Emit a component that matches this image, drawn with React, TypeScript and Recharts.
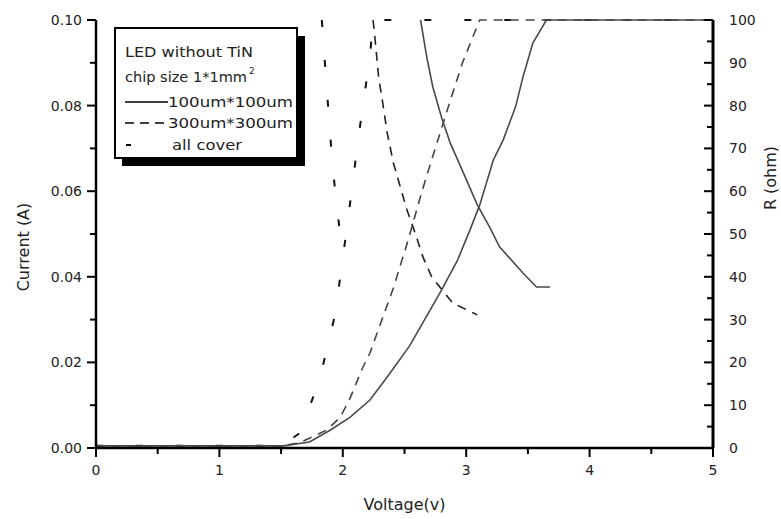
import React from 'react';
import { ComposedChart, Line, XAxis, YAxis } from 'recharts';

// 100um*100um window
const solidIvV = [0, 1.52, 1.73, 1.9, 2.06, 2.22, 2.36, 2.54, 2.8, 2.93, 3.03, 3.11, 3.22, 3.3, 3.4, 3.46, 3.54, 3.65, 5.0];
const solidIvI = [0.0005, 0.0005, 0.0014, 0.0042, 0.0072, 0.0112, 0.0166, 0.0238, 0.0369, 0.0439, 0.0509, 0.0568, 0.0673, 0.072, 0.0797, 0.0867, 0.0946, 0.1, 0.1];
const solidRV = [2.63, 2.68, 2.73, 2.8, 2.87, 2.95, 3.09, 3.19, 3.27, 3.46, 3.57, 3.68];
const solidRR = [100, 91.4, 84.3, 77.3, 71.3, 66.1, 56.8, 51.6, 47.0, 40.9, 37.6, 37.6];

// 300um*300um window
const dashIvV = [0, 1.5, 1.65, 1.87, 1.98, 2.06, 2.16, 2.22, 2.41, 2.53, 2.64, 2.72, 2.88, 2.97, 3.07, 3.11, 5.0];
const dashIvI = [0.0005, 0.0005, 0.0012, 0.0042, 0.0072, 0.0117, 0.0187, 0.0222, 0.0374, 0.0486, 0.0598, 0.0673, 0.082, 0.09, 0.0972, 0.1, 0.1];
const dashRV = [2.245, 2.26, 2.29, 2.32, 2.36, 2.41, 2.48, 2.52, 2.57, 2.65, 2.72, 2.89, 3.09];
const dashRR = [100, 96, 86.7, 81.3, 73.6, 66.6, 59.6, 55.6, 51.6, 44.6, 40, 33.9, 31.1];

// all cover
const coverIvV = [0, 1.5, 1.653, 1.775, 1.831, 1.864, 1.945, 1.985, 2.034, 2.074, 2.131, 2.172, 2.22, 2.245, 5.0];
const coverIvI = [0.0005, 0.0005, 0.0035, 0.0131, 0.0182, 0.0224, 0.032, 0.0416, 0.0514, 0.0607, 0.0734, 0.0818, 0.0914, 0.1, 0.1];
const coverRV = [1.83, 1.864, 1.888, 1.912, 1.945, 1.985];
const coverRR = [100, 86.4, 77.1, 67.8, 57.9, 48.6];

const voltTicks = [0, 0.5, 1, 1.5, 2, 2.5, 3, 3.5, 4, 4.5, 5];
const currentTicks = [0, 0.01, 0.02, 0.03, 0.04, 0.05, 0.06, 0.07, 0.08, 0.09, 0.1];
const ohmTicks = [0, 5, 10, 15, 20, 25, 30, 35, 40, 45, 50, 55, 60, 65, 70, 75, 80, 85, 90, 95, 100];

const FONT = "'DejaVu Sans', 'Liberation Sans', sans-serif";
const INK = '#222';

const zip = (xs: number[], ys: number[], key: string) => xs.map((v, i) => ({ v, [key]: ys[i] }));

function BottomTick({ x, y, payload }: any) {
  const major = Number.isInteger(payload.value);
  return (
    <g>
      <line x1={x} x2={x} y1={y} y2={y + (major ? 9 : 6)} stroke="#000" strokeWidth={2} />
      {major && (
        <text x={x} y={y + 27} textAnchor="middle" fontSize={14} fill={INK} fontFamily={FONT}>
          {payload.value}
        </text>
      )}
    </g>
  );
}

function LeftTick({ x, y, payload }: any) {
  const major = Math.round(payload.value * 100) % 2 === 0;
  return (
    <g>
      <line x1={x - (major ? 9 : 6)} x2={x} y1={y} y2={y} stroke="#000" strokeWidth={2} />
      {major && (
        <text x={x - 14} y={y + 5} textAnchor="end" fontSize={14} fill={INK} fontFamily={FONT}>
          {payload.value.toFixed(2)}
        </text>
      )}
    </g>
  );
}

function RightTick({ x, y, payload }: any) {
  const major = payload.value % 10 === 0;
  return (
    <g>
      <line x1={x - (major ? 9 : 6)} x2={x} y1={y} y2={y} stroke="#000" strokeWidth={2} />
      {major && (
        <text x={x + 16} y={y + 5} textAnchor="start" fontSize={14} fill={INK} fontFamily={FONT}>
          {payload.value}
        </text>
      )}
    </g>
  );
}

function ChartLegend() {
  const t = { fontSize: 14, fill: INK, fontFamily: FONT };
  return (
    <svg width={200} height={150} style={{ position: 'absolute', left: 110, top: 24 }}>
      <rect x={12} y={12} width={183} height={130} fill="#000" />
      <rect x={5} y={4} width={182} height={130} fill="#fff" stroke="#000" strokeWidth={2} />
      <text x={15} y={33} {...t} textLength={128} lengthAdjust="spacingAndGlyphs">LED without TiN</text>
      <text x={15} y={58} {...t} textLength={122} lengthAdjust="spacingAndGlyphs">chip size 1*1mm</text>
      <text x={139} y={50} fontSize={9} fill={INK} fontFamily={FONT}>2</text>
      <line x1={15} x2={58} y1={78} y2={78} stroke="#000" strokeWidth={1.5} />
      <text x={58} y={83} {...t} textLength={125} lengthAdjust="spacingAndGlyphs">100um*100um</text>
      <line x1={15} x2={58} y1={99} y2={99} stroke="#000" strokeWidth={1.5} strokeDasharray="9 6" />
      <text x={58} y={104} {...t} textLength={125} lengthAdjust="spacingAndGlyphs">300um*300um</text>
      <line x1={16} x2={21} y1={121} y2={121} stroke="#000" strokeWidth={2} />
      <text x={62} y={126} {...t} textLength={70} lengthAdjust="spacingAndGlyphs">all cover</text>
    </svg>
  );
}

export default function App() {
  return (
    <div style={{ position: 'absolute', left: 0, top: 0, width: 781, height: 519, background: '#fff' }}>
      <ComposedChart width={781} height={519} margin={{ top: 20, right: 0, bottom: 0, left: 0 }}>
        <XAxis
          type="number"
          dataKey="v"
          domain={[0, 5]}
          ticks={voltTicks}
          interval={0}
          height={71}
          tickSize={0}
          tickMargin={0}
          tickLine={false}
          tick={<BottomTick />}
          axisLine={{ stroke: '#000', strokeWidth: 2.5 }}
          label={(p: any) => (
            <text x={p.viewBox.x + p.viewBox.width / 2} y={p.viewBox.y + 62} textAnchor="middle" fontSize={16} fill={INK} fontFamily={FONT}>
              Voltage(v)
            </text>
          )}
        />
        <YAxis
          yAxisId="I"
          orientation="left"
          type="number"
          domain={[0, 0.1]}
          ticks={currentTicks}
          interval={0}
          width={96}
          tickSize={0}
          tickMargin={0}
          tickLine={false}
          tick={<LeftTick />}
          axisLine={{ stroke: '#000', strokeWidth: 2.5 }}
          label={(p: any) => (
            <text x={23} y={247} transform="rotate(-90 23 247)" textAnchor="middle" dominantBaseline="central" fontSize={16} fill={INK} fontFamily={FONT}>
              Current (A)
            </text>
          )}
        />
        <YAxis
          yAxisId="R"
          orientation="right"
          type="number"
          domain={[0, 100]}
          ticks={ohmTicks}
          interval={0}
          width={68}
          tickSize={0}
          tickMargin={0}
          tickLine={false}
          tick={<RightTick />}
          axisLine={{ stroke: '#000', strokeWidth: 3 }}
          label={(p: any) => (
            <text x={770} y={178} transform="rotate(-90 770 178)" textAnchor="middle" dominantBaseline="central" fontSize={16} fill={INK} fontFamily={FONT}>
              R (ohm)
            </text>
          )}
        />
        <Line data={zip(coverIvV, coverIvI, 'i')} dataKey="i" yAxisId="I" type="linear" dot={false} stroke="#111" strokeWidth={2} strokeDasharray="7 33" isAnimationActive={false} />
        <Line data={zip(coverRV, coverRR, 'r')} dataKey="r" yAxisId="R" type="linear" dot={false} stroke="#111" strokeWidth={2} strokeDasharray="7 33" isAnimationActive={false} />
        <Line data={zip(dashIvV, dashIvI, 'i')} dataKey="i" yAxisId="I" type="linear" dot={false} stroke="#444" strokeWidth={1.6} strokeDasharray="9 7" isAnimationActive={false} />
        <Line data={zip(dashRV, dashRR, 'r')} dataKey="r" yAxisId="R" type="linear" dot={false} stroke="#222" strokeWidth={1.6} strokeDasharray="9 7" isAnimationActive={false} />
        <Line data={zip(solidIvV, solidIvI, 'i')} dataKey="i" yAxisId="I" type="linear" dot={false} stroke="#4a4a4a" strokeWidth={1.6} isAnimationActive={false} />
        <Line data={zip(solidRV, solidRR, 'r')} dataKey="r" yAxisId="R" type="linear" dot={false} stroke="#4a4a4a" strokeWidth={1.6} isAnimationActive={false} />
      </ComposedChart>
      <ChartLegend />
    </div>
  );
}
